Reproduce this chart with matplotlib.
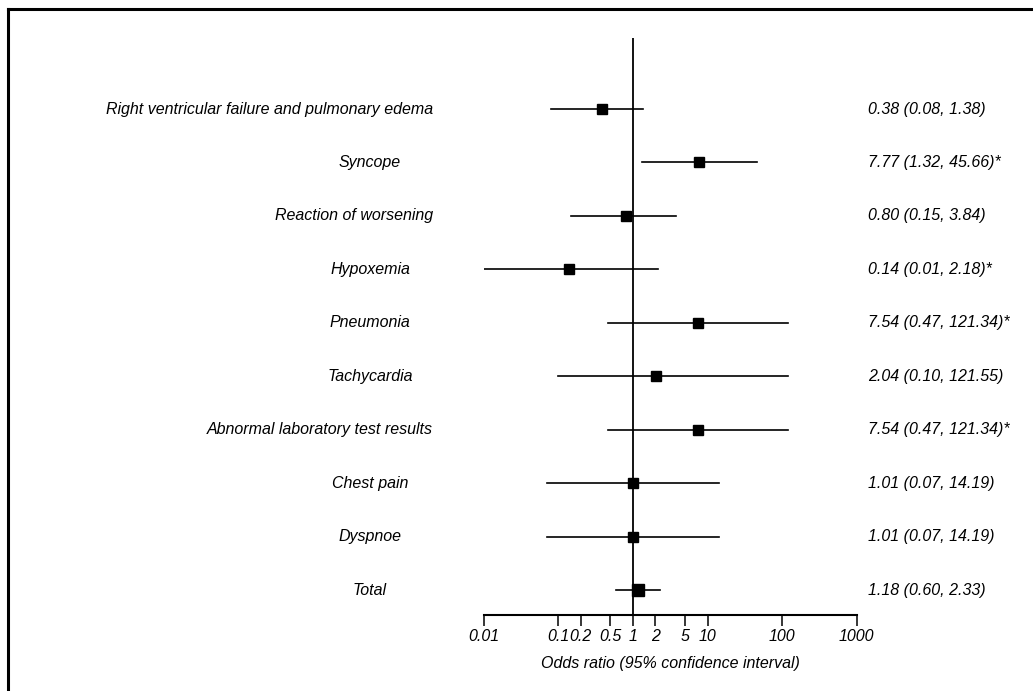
import numpy as np
import matplotlib
matplotlib.use("Agg")
import matplotlib.pyplot as plt
from matplotlib.transforms import blended_transform_factory
from matplotlib.lines import Line2D

plt.rcParams['font.family'] = ['Liberation Sans', 'DejaVu Sans']
plt.rcParams['font.style'] = 'italic'

# Adverse events, top to bottom
events = [
    'Right ventricular failure and pulmonary edema',
    'Syncope',
    'Reaction of worsening',
    'Hypoxemia',
    'Pneumonia',
    'Tachycardia',
    'Abnormal laboratory test results',
    'Chest pain',
    'Dyspnoe',
    'Total',
]
odds = [0.38, 7.77, 0.80, 0.14, 7.54, 2.04, 7.54, 1.01, 1.01, 1.18]
ci_low = [0.08, 1.32, 0.15, 0.01, 0.47, 0.10, 0.47, 0.07, 0.07, 0.60]
ci_high = [1.38, 45.66, 3.84, 2.18, 121.34, 121.55, 121.34, 14.19, 14.19, 2.33]
flags = ['', '*', '', '*', '*', '', '*', '', '', '']

tick_values = [0.01, 0.1, 0.2, 0.5, 1, 2, 5, 10, 100, 1000]
tick_labels = ['0.01', '0.1', '0.2', '0.5', '1', '2', '5', '10', '100', '1000']

W, H = 1033, 691
fig = plt.figure(figsize=(W / 100, H / 100), dpi=100)

# axes placed so the bottom spine runs from 0.01 to 1000
left_px, right_px = 483.7, 856.7
top_px, bottom_px = 38, 614.7
ax = fig.add_axes([left_px / W, 1 - bottom_px / H,
                   (right_px - left_px) / W, (bottom_px - top_px) / H])
ax.set_xscale('log')
ax.set_xlim(0.01, 1000)

n = len(events)
ypos = np.arange(n)[::-1]  # top row highest
step = 53.44
ax.set_ylim(-(24.7 / step), (590 - top_px) / step)

for sp in ['top', 'right', 'left']:
    ax.spines[sp].set_visible(False)
ax.spines['bottom'].set_linewidth(1.5)
ax.set_yticks([])
ax.set_xticks(tick_values)
ax.set_xticklabels(tick_labels, fontsize=11.5, style='italic')
ax.xaxis.set_minor_locator(matplotlib.ticker.NullLocator())
ax.tick_params(axis='x', direction='out', length=8, width=1.1, pad=2)
ax.set_xlabel('Odds ratio (95% confidence interval)', fontsize=11.5,
              style='italic', labelpad=9)

ax.axvline(1, color='black', lw=1.3, zorder=1)

for i in range(n):
    y = ypos[i]
    ax.plot([ci_low[i], ci_high[i]], [y, y], color='black', lw=1.2, zorder=2)
    ms = 8 if events[i] == 'Total' else 6.6
    ax.plot(odds[i], y, marker='s', color='black', ms=ms, zorder=3)

trans = blended_transform_factory(fig.transFigure, ax.transData)
fig.canvas.draw()
renderer = fig.canvas.get_renderer()
for i in range(n):
    y = ypos[i]
    t = ax.text(370 / W, y, events[i], transform=trans, ha='center',
                va='center', fontsize=11.5, style='italic')
    bb = t.get_window_extent(renderer)
    if bb.x1 > 433:
        t.set_ha('right')
        t.set_x(433 / W)
    label = f'{odds[i]:.2f} ({ci_low[i]:.2f}, {ci_high[i]:.2f}){flags[i]}'
    ax.text(868 / W, y, label, transform=trans, ha='left', va='center',
            fontsize=11.5, style='italic')

# frame lines along the left and top edges
fig.add_artist(Line2D([8 / W, 8 / W], [0, 1 - 9 / H], transform=fig.transFigure,
                      color='black', lw=2.2))
fig.add_artist(Line2D([8 / W, 1], [1 - 9 / H, 1 - 9 / H], transform=fig.transFigure,
                      color='black', lw=2.2))

fig.savefig('out.png', dpi=100)
